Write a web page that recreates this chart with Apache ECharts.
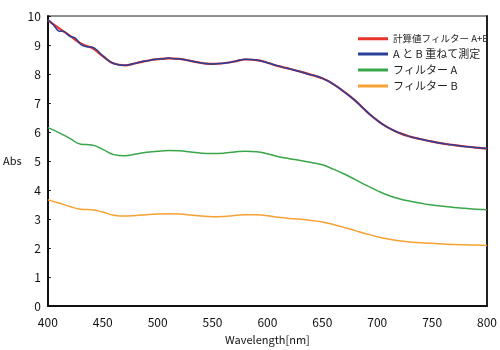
<!DOCTYPE html>
<html><head><meta charset="utf-8">
<script src="https://cdn.jsdelivr.net/npm/echarts@6/dist/echarts.min.js"></script>
<style>html,body{margin:0;padding:0;background:#fff}#c{width:500px;height:350px}</style>
</head><body><div id="c"></div>
<script>
const seriesNames = ['計算値フィルター A+B', 'A と B 重ねて測定', 'フィルター A', 'フィルター B'];
const wl10 = [400,410,420,430,440,450,460,470,480,490,500,510,520,530,540,550,560,570,580,590,600,610,620,630,640,650,660,670,680,690,700,710,720,730,740,750,760,770,780,790,800];
const wl5 = [400,405,410,415,420,425,430,435,440,445,450,455,460,465,470,475,480,485,490,495,500,505,510,515,520,525,530,535,540,545,550,555,560,565,570,575,580,585,590,595,600,605,610,615,620,625,630,635,640,645,650,655,660,665,670,675,680,685,690,695,700,705,710,715,720,725,730,735,740,745,750,755,760,765,770,775,780,785,790,795,800];
const calcAB = [9.86,9.58,9.32,9.05,8.90,8.62,8.36,8.30,8.37,8.45,8.51,8.54,8.52,8.45,8.38,8.35,8.37,8.43,8.50,8.48,8.39,8.27,8.18,8.08,7.97,7.85,7.65,7.38,7.08,6.72,6.40,6.15,5.97,5.84,5.75,5.67,5.60,5.55,5.50,5.46,5.43];
const measuredAB = [9.88,9.70,9.48,9.46,9.30,9.24,9.02,8.94,8.93,8.82,8.62,8.47,8.36,8.31,8.30,8.33,8.37,8.42,8.45,8.49,8.51,8.52,8.55,8.53,8.52,8.49,8.45,8.41,8.38,8.36,8.34,8.36,8.37,8.40,8.43,8.48,8.51,8.50,8.48,8.44,8.39,8.33,8.28,8.22,8.18,8.13,8.08,8.02,7.97,7.92,7.85,7.76,7.65,7.52,7.38,7.23,7.08,6.90,6.72,6.55,6.40,6.26,6.15,6.05,5.97,5.90,5.84,5.79,5.75,5.71,5.67,5.63,5.60,5.57,5.55,5.52,5.50,5.48,5.46,5.45,5.43];
const filterA = [6.15,5.98,5.78,5.58,5.55,5.40,5.22,5.18,5.24,5.30,5.34,5.36,5.35,5.31,5.27,5.26,5.27,5.31,5.34,5.32,5.25,5.15,5.08,5.02,4.95,4.87,4.72,4.55,4.36,4.16,3.98,3.82,3.70,3.61,3.54,3.48,3.44,3.40,3.37,3.34,3.32];
const filterB = [3.66,3.55,3.43,3.34,3.32,3.24,3.13,3.10,3.12,3.15,3.17,3.18,3.17,3.14,3.10,3.08,3.09,3.12,3.15,3.15,3.11,3.06,3.02,2.99,2.95,2.90,2.81,2.71,2.60,2.49,2.39,2.31,2.25,2.21,2.18,2.16,2.14,2.12,2.11,2.10,2.09];
const xTicks = [400,450,500,550,600,650,700,750,800];

const pair = (xs, ys) => xs.map((x, i) => [x, ys[i]]);
const font = "'Noto Sans CJK JP', 'DejaVu Sans', sans-serif";
const chart = echarts.init(document.getElementById('c'), null, {renderer: 'canvas'});
chart.setOption({
  animation: false,
  backgroundColor: '#fff',
  textStyle: {fontFamily: font},
  grid: {left: 43, right: 10, top: 16, bottom: 42, show: true, borderColor: '#222', borderWidth: 1},
  legend: {
    orient: 'vertical', left: 353, top: 29, itemWidth: 30, itemHeight: 3, itemGap: 5,
    icon: 'rect',
    textStyle: {fontSize: 11, color: '#222', fontFamily: font,
      rich: {s: {fontSize: 9.5, color: '#222', fontFamily: font}, n: {fontSize: 11, color: '#222', fontFamily: font}}},
    formatter: name => name === seriesNames[0] ? '{s|' + name + '}' : '{n|' + name + '}',
    data: seriesNames
  },
  xAxis: {
    type: 'value', min: 400, max: 800, interval: 50,
    axisLine: {lineStyle: {color: '#111', width: 2}},
    axisTick: {show: false},
    splitLine: {show: false},
    axisLabel: {color: '#111', fontSize: 12, margin: 10, fontFamily: font,
      formatter: v => xTicks.includes(v) ? String(v) : ''},
    name: 'Wavelength[nm]', nameLocation: 'middle', nameGap: 28,
    nameTextStyle: {color: '#111', fontSize: 11, fontFamily: font}
  },
  yAxis: [{
    type: 'value', min: 0, max: 10, interval: 1,
    axisLine: {show: true, lineStyle: {color: '#111', width: 2}},
    axisTick: {show: true, inside: true, length: 3, lineStyle: {color: '#111'}},
    splitLine: {show: false},
    axisLabel: {color: '#111', fontSize: 12, margin: 7, fontFamily: font},
    name: 'Abs', nameLocation: 'middle', nameRotate: 0, nameGap: 24,
    nameTextStyle: {color: '#111', fontSize: 11, fontFamily: font, padding: [6, 0, 0, 0]}
  }, {
    type: 'value', min: 0, max: 10, position: 'right',
    axisLine: {show: true, lineStyle: {color: '#222', width: 2}},
    axisTick: {show: false}, axisLabel: {show: false}, splitLine: {show: false}
  }],
  series: [
    {name: seriesNames[0], type: 'line', data: pair(wl10, calcAB), smooth: true, showSymbol: false, symbol: 'none',
      color: '#e8332b', lineStyle: {width: 2.2, color: '#e8332b'}, z: 2},
    {name: seriesNames[1], type: 'line', data: pair(wl5, measuredAB), smooth: 0.3, showSymbol: false, symbol: 'none',
      color: '#2a3f97', lineStyle: {width: 1.5, color: '#2a3f97'}, z: 3},
    {name: seriesNames[2], type: 'line', data: pair(wl10, filterA), smooth: true, showSymbol: false, symbol: 'none',
      color: '#3aa64a', lineStyle: {width: 1.5, color: '#3aa64a'}, z: 2},
    {name: seriesNames[3], type: 'line', data: pair(wl10, filterB), smooth: true, showSymbol: false, symbol: 'none',
      color: '#f5a133', lineStyle: {width: 1.5, color: '#f5a133'}, z: 2}
  ]
});
</script></body></html>
